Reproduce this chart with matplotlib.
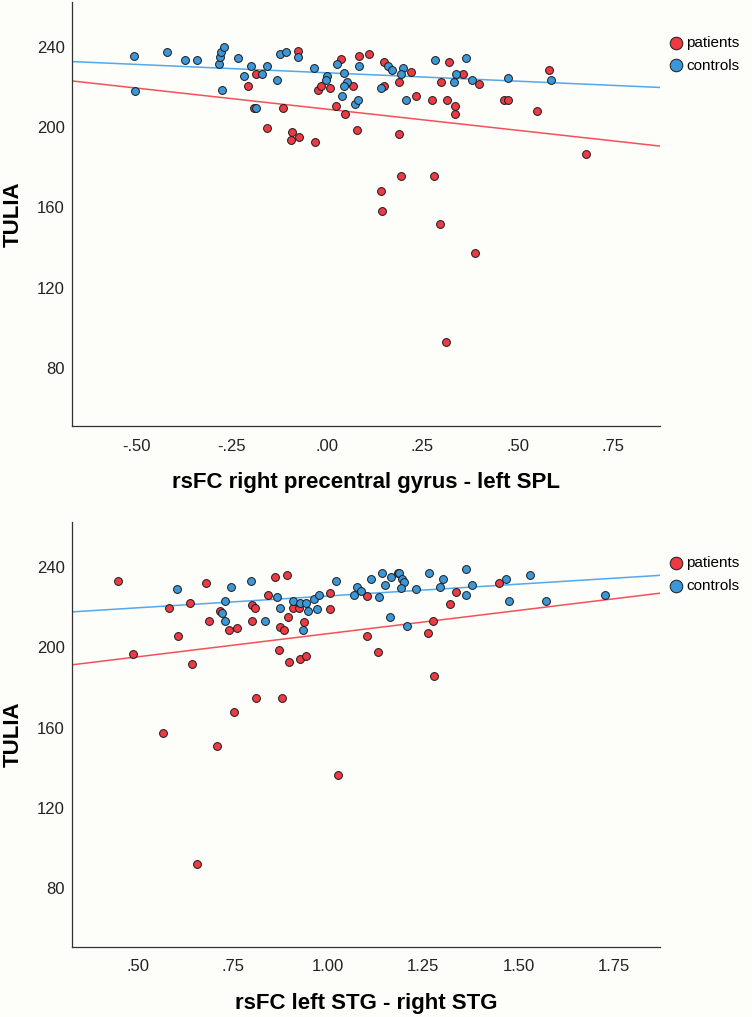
# Диаграммы рассеяния: TULIA против rsFC (пациенты / контроль)
import numpy as np
import matplotlib
matplotlib.use('Agg')
import matplotlib.pyplot as plt

plt.rcParams['font.family'] = ['Liberation Sans', 'DejaVu Sans']

# --- верхняя панель: rsFC right precentral gyrus - left SPL ---
spl_pat_x = [-0.077, -0.186, -0.208, -0.191, -0.115, -0.159, -0.092, -0.095, -0.073, -0.033,
             0.036, -0.024, -0.016, 0.008, 0.024, 0.047, 0.068, 0.079, 0.084, 0.111,
             0.149, 0.149, 0.189, 0.220, 0.232, 0.188, 0.194, 0.142, 0.144, 0.280,
             0.297, 0.275, 0.298, 0.319, 0.315, 0.335, 0.335, 0.356, 0.398, 0.465,
             0.475, 0.551, 0.583, 0.680, 0.389, 0.312]
spl_pat_y = [237.7, 226.5, 220.6, 209.5, 209.5, 199.3, 197.5, 193.4, 195.0, 192.4,
             233.7, 218.4, 220.6, 219.4, 210.3, 206.6, 220.6, 198.5, 235.5, 236.5,
             232.5, 220.6, 222.6, 227.5, 215.4, 196.4, 175.4, 168.2, 158.3, 175.4,
             151.8, 213.4, 222.6, 232.5, 213.4, 210.5, 206.5, 226.4, 221.4, 213.4,
             213.4, 208.0, 228.5, 186.4, 137.2, 93.0]
spl_con_x = [-0.507, -0.504, -0.421, -0.373, -0.342, -0.285, -0.281, -0.279, -0.270, -0.277,
             -0.235, -0.199, -0.219, -0.172, -0.159, -0.132, -0.186, -0.123, -0.109, -0.076,
             -0.035, 0.000, -0.002, 0.027, 0.043, 0.053, 0.043, 0.038, 0.073, 0.080,
             0.084, 0.142, 0.161, 0.170, 0.199, 0.194, 0.206, 0.284, 0.365, 0.338,
             0.332, 0.380, 0.476, 0.587]
spl_con_y = [235.5, 217.9, 237.5, 233.5, 233.5, 231.4, 234.7, 237.5, 239.7, 218.6,
             234.5, 230.5, 225.6, 226.5, 230.5, 223.6, 209.5, 236.5, 237.5, 234.7,
             229.5, 225.6, 223.4, 231.5, 226.7, 222.6, 220.6, 215.6, 211.6, 213.6,
             230.5, 219.4, 230.5, 228.5, 229.5, 226.5, 213.4, 233.5, 234.5, 226.5,
             222.6, 223.6, 224.6, 223.6]

# --- нижняя панель: rsFC left STG - right STG ---
stg_pat_x = [0.448, 0.487, 0.566, 0.607, 0.583, 0.638, 0.643, 0.680, 0.688, 0.709,
             0.717, 0.739, 0.762, 0.752, 0.801, 0.808, 0.800, 0.812, 0.841, 0.861,
             0.891, 0.871, 0.874, 0.883, 0.880, 0.896, 0.898, 0.907, 0.923, 0.938,
             0.925, 0.942, 1.005, 1.005, 0.656, 1.102, 1.103, 1.132, 1.261, 1.276,
             1.279, 1.321, 1.335, 1.449, 1.026]
stg_pat_y = [232.9, 196.7, 157.6, 205.8, 219.8, 221.9, 191.7, 231.9, 212.9, 151.0,
             217.9, 208.8, 209.8, 167.6, 220.9, 219.8, 212.9, 174.6, 225.9, 234.9,
             235.9, 198.8, 210.0, 208.8, 174.6, 214.9, 192.7, 219.8, 219.8, 212.8,
             194.4, 195.7, 226.9, 218.9, 92.2, 225.7, 205.8, 197.8, 207.3, 212.9,
             185.9, 221.8, 227.7, 231.9, 136.5]
stg_con_x = [0.604, 0.744, 0.798, 0.730, 0.721, 0.730, 0.834, 0.865, 0.875, 0.909,
             0.925, 0.942, 0.947, 0.934, 0.962, 0.971, 0.976, 1.020, 1.068, 1.075,
             1.087, 1.112, 1.133, 1.141, 1.150, 1.165, 1.183, 1.186, 1.194, 1.198,
             1.192, 1.162, 1.207, 1.232, 1.264, 1.295, 1.301, 1.361, 1.362, 1.377,
             1.468, 1.476, 1.529, 1.573, 1.726]
stg_con_y = [228.9, 229.9, 232.9, 222.9, 217.3, 212.9, 212.9, 224.8, 219.8, 222.9,
             221.9, 221.9, 217.9, 208.8, 223.9, 218.9, 225.9, 232.9, 225.9, 229.9,
             227.9, 233.9, 224.9, 236.9, 230.9, 234.9, 236.9, 236.9, 233.9, 232.7,
             229.7, 214.9, 210.8, 228.9, 236.9, 229.9, 233.9, 238.9, 225.9, 230.9,
             233.9, 222.9, 235.9, 222.9, 225.9]

y_ticks = [80, 120, 160, 200, 240]
spl_ticks = [-0.50, -0.25, 0.00, 0.25, 0.50, 0.75]
spl_labels = ['-.50', '-.25', '.00', '.25', '.50', '.75']
stg_ticks = [0.50, 0.75, 1.00, 1.25, 1.50, 1.75]
stg_labels = ['.50', '.75', '1.00', '1.25', '1.50', '1.75']

red = '#EE3A45'
blue = '#3C97D9'
red_line = '#F4505B'
blue_line = '#52A9EC'
bg = '#FDFDF9'

fig = plt.figure(figsize=(7.52, 10.17), dpi=100, facecolor=bg)


def panel(rect, px, py, cx, cy, xlim, ticks, labels, xlabel):
    ax = fig.add_axes(rect, facecolor=bg)
    # сначала пациенты, сверху контроль
    ax.scatter(px, py, s=32, c=red, edgecolors='#1a1a1a', linewidths=0.7, zorder=3, label='patients')
    ax.scatter(cx, cy, s=32, c=blue, edgecolors='#1a1a1a', linewidths=0.7, zorder=4, label='controls')
    # линии регрессии по каждой группе
    xs = np.array(xlim)
    for x, y, col in [(px, py, red_line), (cx, cy, blue_line)]:
        k, b = np.polyfit(x, y, 1)
        ax.plot(xs, k * xs + b, color=col, lw=1.1, zorder=2)
    ax.set_xlim(xlim)
    ax.set_ylim(51, 262.3)
    ax.set_xticks(ticks)
    ax.set_xticklabels(labels)
    ax.set_yticks(y_ticks)
    ax.tick_params(length=0, labelsize=12, colors='#222222')
    ax.tick_params(axis='x', pad=9)
    ax.tick_params(axis='y', pad=5)
    for side in ['top', 'right']:
        ax.spines[side].set_visible(False)
    for side in ['left', 'bottom']:
        ax.spines[side].set_color('#333333')
        ax.spines[side].set_linewidth(0.9)
    ax.set_xlabel(xlabel, fontsize=16, fontweight='bold', va='center')
    ax.xaxis.set_label_coords(0.5, -0.134)
    ax.set_ylabel('TULIA', fontsize=16, fontweight='bold', va='center')
    ax.yaxis.set_label_coords(-0.099, 0.5)
    ax.legend(loc='upper left', bbox_to_anchor=(1.0143, 0.920), frameon=False,
              borderaxespad=0, borderpad=0, handletextpad=0.15, labelspacing=0.56,
              handlelength=1.0, fontsize=11, markerscale=1.6, scatterpoints=1)
    return ax


panel([0.0953, 0.5811, 0.7823, 0.4169], spl_pat_x, spl_pat_y, spl_con_x, spl_con_y,
      (-0.671, 0.874), spl_ticks, spl_labels, 'rsFC right precentral gyrus - left SPL')
panel([0.0953, 0.0691, 0.7823, 0.4175], stg_pat_x, stg_pat_y, stg_con_x, stg_con_y,
      (0.327, 1.871), stg_ticks, stg_labels, 'rsFC left STG - right STG')

plt.savefig('out.png', dpi=100, facecolor=bg)
